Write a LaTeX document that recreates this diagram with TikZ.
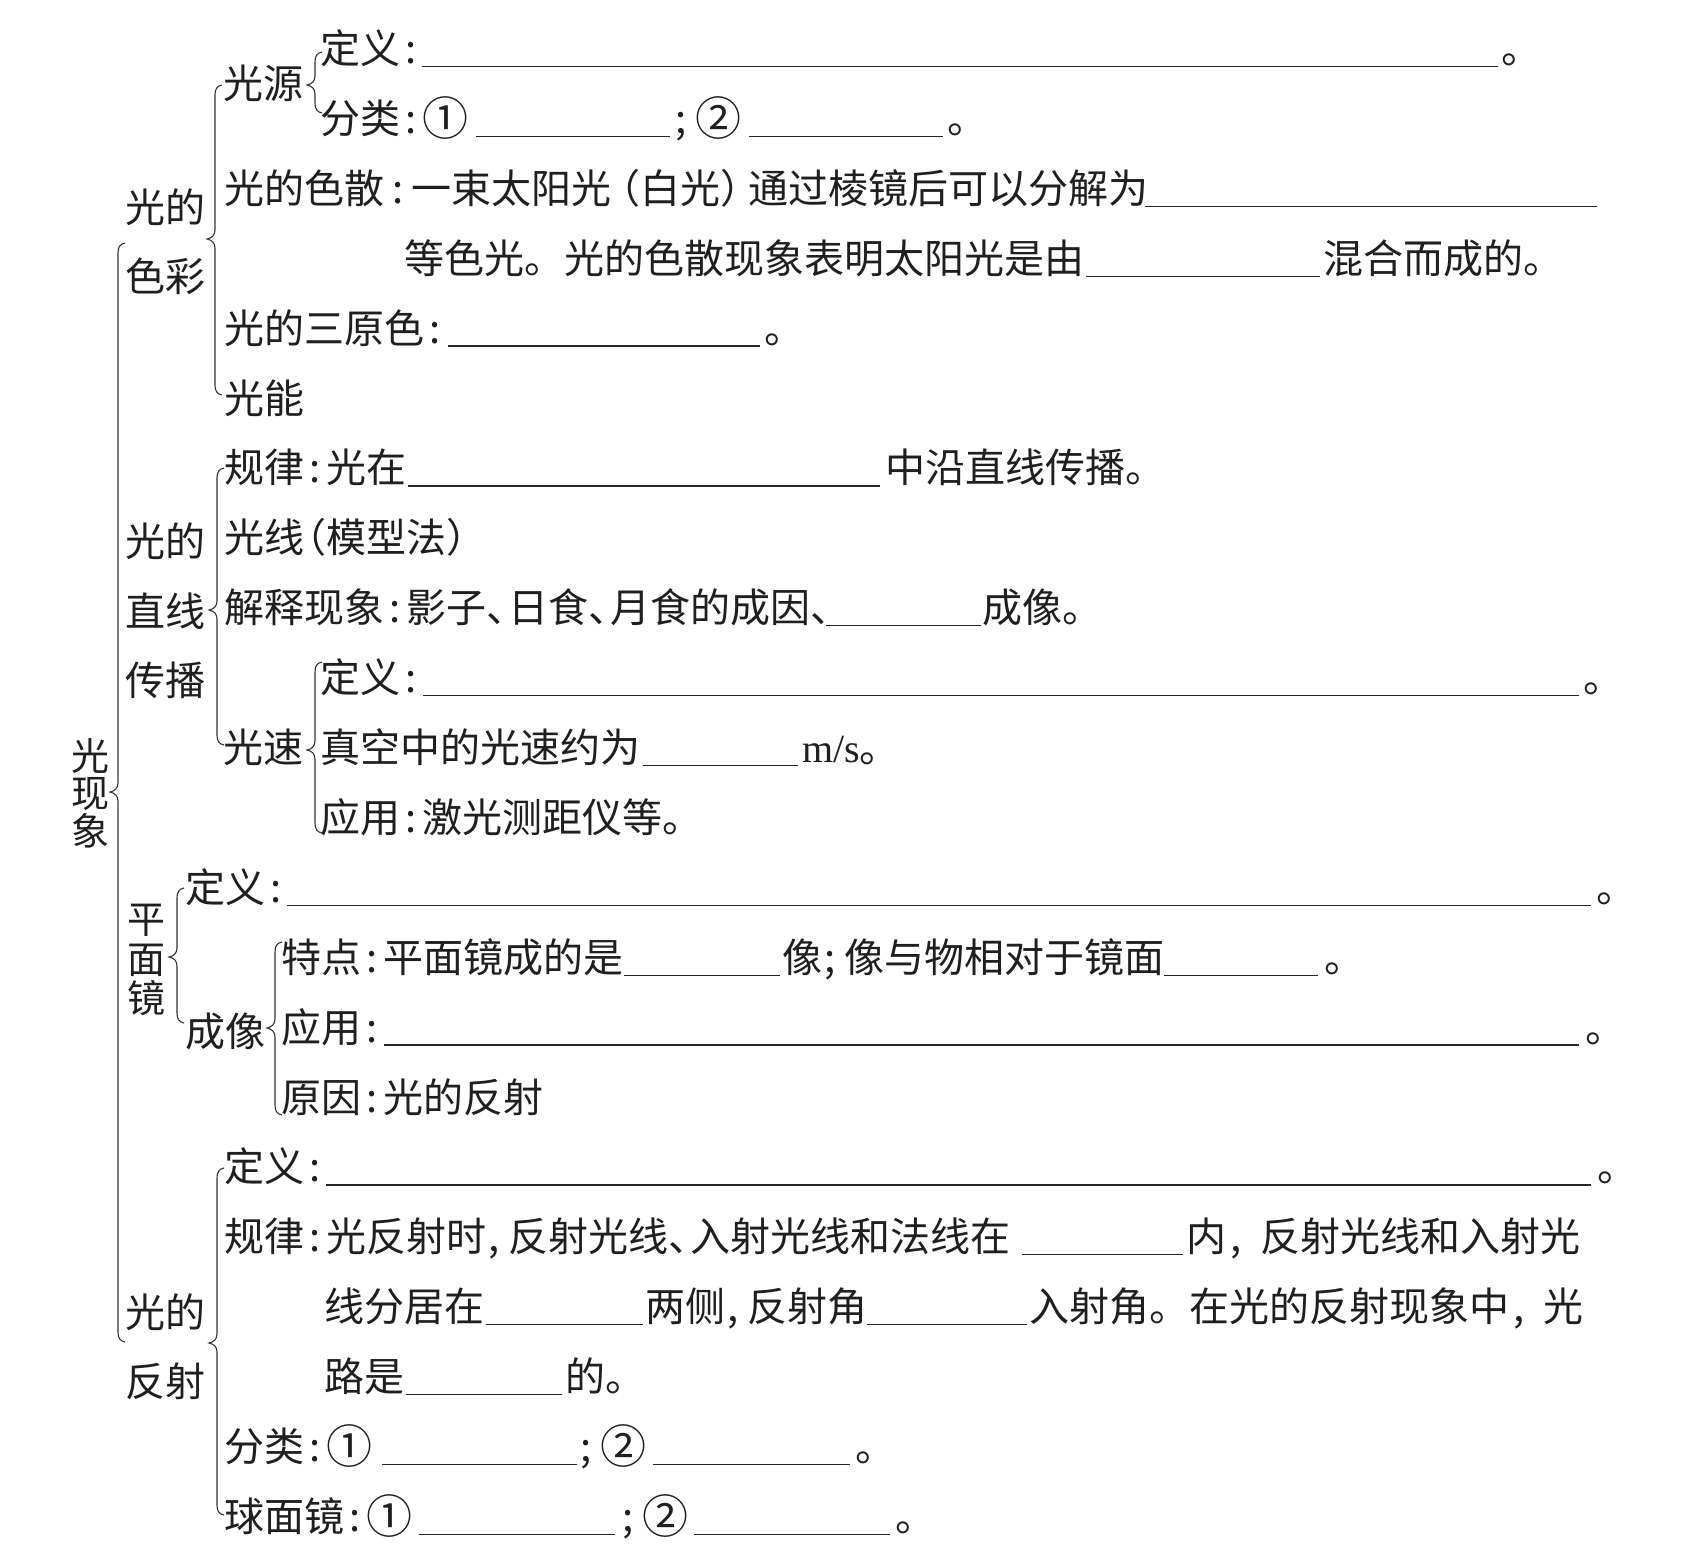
\documentclass[tikz,border=0pt]{standalone}
\usepackage{fontspec}
\newfontfamily\cjk{Noto Sans CJK SC}
\newfontfamily\latserif{Liberation Serif}
\newcommand\zco{\makebox[0.55em][c]{:}}
\newcommand\zcow{\makebox[0.7em][c]{:}}
\newcommand\zcm{\makebox[0.55em][l]{\hspace{0.06em},}}
\newcommand\zcmw{\makebox[0.85em][l]{\hspace{0.1em},}}
\newcommand\zse{\makebox[0.55em][l]{\hspace{0.06em};}}
\newcommand\zdu{\makebox[0.55em][l]{、}}
\newcommand\zlp{\makebox[0.55em][r]{（}}
\newcommand\zrp{\makebox[0.55em][l]{）}}
\newcommand\zlpw{\makebox[0.7em][r]{（}}
\newcommand\zrpw{\makebox[0.7em][l]{）}}
\newcommand\zone{\raisebox{-0.06em}{\fontsize{23pt}{23pt}\selectfont ①}}
\newcommand\ztwo{\raisebox{-0.06em}{\fontsize{23pt}{23pt}\selectfont ②}}
% brace: x, top, tip, bottom
\newcommand\mybrace[4]{%
  \draw[brc] (#1+7,#2) .. controls (#1+2,#2+1) and (#1,#2+4) .. (#1,#2+10)
    -- (#1,#3-9) .. controls (#1,#3-4) and (#1-3,#3-1) .. (#1-8,#3)
    .. controls (#1-3,#3+1) and (#1,#3+4) .. (#1,#3+9)
    -- (#1,#4-10) .. controls (#1,#4-4) and (#1+2,#4-1) .. (#1+7,#4);}
\begin{document}
\begin{tikzpicture}[x={(0.5pt,0)},y={(0,-0.5pt)},
  txt/.style={anchor=base west,inner sep=0pt,outer sep=0pt,text=black!88,
    font=\cjk\fontsize{20pt}{24pt}\selectfont},
  vtx/.style={anchor=base west,inner sep=0pt,outer sep=0pt,text=black!88,
    font=\cjk\fontsize{19pt}{22pt}\selectfont},
  blank/.style={draw=black!85,line width=0.65pt},
  brc/.style={draw=black!80,line width=0.55pt}]
\useasboundingbox[fill=white] (0,0) rectangle (1686,1546);

% ---- braces ----
\mybrace{118}{243}{792}{1342}
\mybrace{215}{85}{239}{395}
\mybrace{315}{52}{85}{113}
\mybrace{217}{468}{610}{745}
\mybrace{315}{662}{750}{833}
\mybrace{177}{888}{957}{1023}
\mybrace{275}{942}{1028}{1115}
\mybrace{217}{1168}{1343}{1515}

% ---- level 1 ----
\node[vtx] (g1) at (71,770) {光};
\node[vtx] (g2) at (71,807) {现};
\node[vtx] (g3) at (71,845) {象};

% ---- level 2 labels ----
\node[txt] (sa1) at (125,223) {光的};
\node[txt] (sa2) at (125,292) {色彩};
\node[txt] (sb1) at (125,556) {光的};
\node[txt] (sb2) at (125,626) {直线};
\node[txt] (sb3) at (125,695) {传播};
\node[vtx] (sc1) at (127,933) {平};
\node[vtx] (sc2) at (127,973) {面};
\node[vtx] (sc3) at (127,1012) {镜};
\node[txt] (sd1) at (125,1327) {光的};
\node[txt] (sd2) at (125,1396) {反射};

% ---- 光的色彩 ----
\node[txt] (gy) at (223,98.5) {光源};
\node[txt] (r0a) at (320,63.5) {定义\zco};
\draw[blank] (422,66.5) -- (1498,66.5);
\node[txt] (r0b) at (1501,63.5) {。};
\node[txt] (r1a) at (320,133.4) {分类\zco\zone};
\draw[blank] (476,136.4) -- (670,136.4);
\node[txt] (r1b) at (673,133.4) {\zse\ztwo};
\draw[blank] (749,136.4) -- (943,136.4);
\node[txt] (r1c) at (947,133.4) {。};
\node[txt] (r2a) at (224,203.3) {光的色散\zcow 一束太阳光\zlpw 白光\zrpw 通过棱镜后可以分解为};
\draw[blank] (1145,206.3) -- (1597,206.3);
\node[txt] (r3a) at (404,273.2) {等色光。光的色散现象表明太阳光是由};
\draw[blank] (1086,276.2) -- (1320,276.2);
\node[txt] (r3b) at (1323,273.2) {混合而成的。};
\node[txt] (r4a) at (224,343.1) {光的三原色\zco};
\draw[blank] (448,346.1) -- (760,346.1);
\node[txt] (r4b) at (764,343.1) {。};
\node[txt] (r5a) at (224,413) {光能};

% ---- 光的直线传播 ----
\node[txt] (r6a) at (224,482.9) {规律\zco 光在};
\draw[blank] (408,485.9) -- (880,485.9);
\node[txt] (r6b) at (885,482.9) {中沿直线传播。};
\node[txt] (r7a) at (224,552.8) {光线\zlp 模型法\zrp};
\node[txt] (r8a) at (224,622.7) {解释现象\zco 影子\zdu 日食\zdu 月食的成因\zdu};
\draw[blank] (826,625.7) -- (981,625.7);
\node[txt] (r8b) at (982,622.7) {成像。};
\node[txt] (r9a) at (320,692.6) {定义\zco};
\draw[blank] (423,695.6) -- (1579,695.6);
\node[txt] (r9b) at (1583,692.6) {。};
\node[txt] (gs) at (223,762.5) {光速};
\node[txt] (r10a) at (320,762.5) {真空中的光速约为};
\draw[blank] (643,765.5) -- (798,765.5);
\node[txt] (r10b) at (802,762.5) {{\latserif m/s}。};
\node[txt] (r11a) at (320,832.4) {应用\zco 激光测距仪等。};

% ---- 平面镜 ----
\node[txt] (r12a) at (185,902.3) {定义\zco};
\draw[blank] (287,905.3) -- (1591,905.3);
\node[txt] (r12b) at (1596,902.3) {。};
\node[txt] (r13a) at (281,972.2) {特点\zco 平面镜成的是};
\draw[blank] (624,975.2) -- (780,975.2);
\node[txt] (r13b) at (782,972.2) {像\zse 像与物相对于镜面};
\draw[blank] (1164,975.2) -- (1318,975.2);
\node[txt] (r13c) at (1324,972.2) {。};
\node[txt] (cx) at (185,1046) {成像};
\node[txt] (r14a) at (281,1042.1) {应用\zco};
\draw[blank] (384,1045.1) -- (1579,1045.1);
\node[txt] (r14b) at (1585,1042.1) {。};
\node[txt] (r15a) at (281,1112) {原因\zco 光的反射};

% ---- 光的反射 ----
\node[txt] (r16a) at (224,1181.9) {定义\zco};
\draw[blank] (326,1184.9) -- (1591,1184.9);
\node[txt] (r16b) at (1597,1181.9) {。};
\node[txt] (r17a) at (224,1251.8) {规律\zco 光反射时\zcm 反射光线\zdu 入射光线和法线在};
\draw[blank] (1022,1254.8) -- (1183,1254.8);
\node[txt] (r17b) at (1186,1251.8) {内\zcmw 反射光线和入射光};
\node[txt] (r18a) at (324,1321.7) {线分居在};
\draw[blank] (486,1324.7) -- (643,1324.7);
\node[txt] (r18b) at (645,1321.7) {两侧\zcm 反射角};
\draw[blank] (867,1324.7) -- (1027,1324.7);
\node[txt] (r18c) at (1029,1321.7) {入射角。在光的反射现象中\zcmw 光};
\node[txt] (r19a) at (324,1391.6) {路是};
\draw[blank] (406,1394.6) -- (562,1394.6);
\node[txt] (r19b) at (565,1391.6) {的。};
\node[txt] (r20a) at (224,1461.5) {分类\zco\zone};
\draw[blank] (382,1464.5) -- (577,1464.5);
\node[txt] (r20b) at (578,1461.5) {\zse\ztwo};
\draw[blank] (653,1464.5) -- (850,1464.5);
\node[txt] (r20c) at (855,1461.5) {。};
\node[txt] (r21a) at (224,1531.4) {球面镜\zco\zone};
\draw[blank] (419,1534.4) -- (615,1534.4);
\node[txt] (r21b) at (620,1531.4) {\zse\ztwo};
\draw[blank] (694,1534.4) -- (890,1534.4);
\node[txt] (r21c) at (895,1531.4) {。};
\end{tikzpicture}
\end{document}
